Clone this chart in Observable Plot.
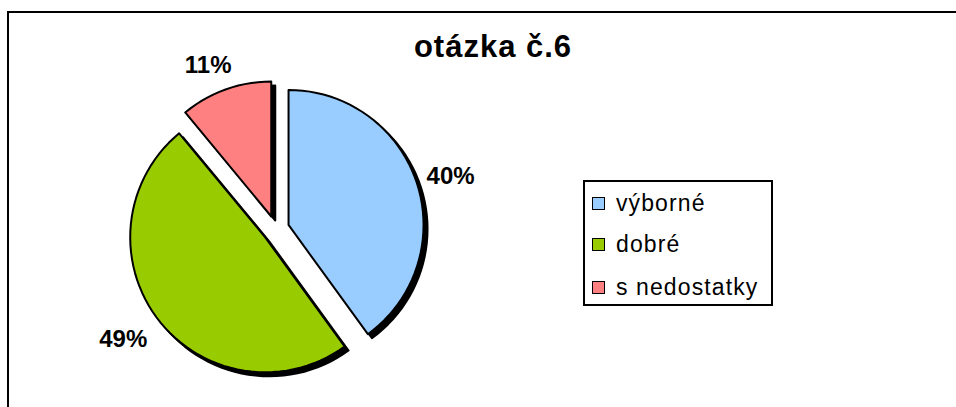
<!DOCTYPE html>
<html>
<head>
<meta charset="utf-8">
<script src="https://cdn.jsdelivr.net/npm/d3@7"></script>
<script src="https://cdn.jsdelivr.net/npm/@observablehq/plot@0.6"></script>
<style>
  html, body { margin: 0; padding: 0; background: #fff; }
  #wrap { position: relative; width: 956px; height: 407px; overflow: hidden; font-family: "Liberation Sans", Arial, sans-serif; }
  #frame { position: absolute; left: 7px; top: 11px; width: 1000px; height: 500px; border: 2px solid #000; box-sizing: border-box; }
  #chart { position: absolute; left: 0; top: 0; }
  #title { position: absolute; left: 293px; width: 400px; top: 29px; text-align: center; font-weight: bold; font-size: 31px; letter-spacing: 1px; line-height: 36px; color: #000; }
  #legend { position: absolute; left: 583px; top: 180px; width: 190px; height: 126px; border: 2px solid #000; box-sizing: border-box; background: #fff; }
  .row { position: absolute; left: 7px; height: 26px; line-height: 26px; font-size: 23px; letter-spacing: 1.1px; white-space: nowrap; display: flex; align-items: center; }
  .sw { width: 13px; height: 13px; border: 1.5px solid #000; box-sizing: border-box; margin-right: 11px; flex: none; }
</style>
</head>
<body>
<div id="wrap">
  <div id="frame"></div>
  <div id="chart"></div>
  <div id="title"></div>
  <div id="legend"></div>
</div>
<script>
// ---- data ----
const titleText = "otázka č.6";
const categories = ["výborné", "dobré", "s nedostatky"];
const values = [40, 49, 11];
const labels = ["40%", "49%", "11%"];
const colors = ["#99CCFF", "#99CC00", "#FF8080"];

// ---- geometry (layout, in units of the pie radius) ----
const W = 956, H = 407;
const R = 135;                 // pixels per radius unit
const cx = 275.3, cy = 228.6;  // pixel location of pie centre
const explode = 13.4 / R;      // explosion offset
const labelRx = 188 / R, labelRy = 176 / R; // label distance
const steps = 120;

const total = d3.sum(values);
const slicePts = [];
const labelData = [];
let cum = 0;
values.forEach((v, i) => {
  const a0 = cum / total * 2 * Math.PI;
  cum += v;
  const a1 = cum / total * 2 * Math.PI;
  const mid = (a0 + a1) / 2;
  const ox = explode * Math.sin(mid), oy = explode * Math.cos(mid);
  slicePts.push({cat: categories[i], x: ox, y: oy});
  const n = Math.max(2, Math.ceil(steps * (a1 - a0) / (2 * Math.PI)));
  for (let k = 0; k <= n; k++) {
    const a = a0 + (a1 - a0) * k / n;
    slicePts.push({cat: categories[i], x: ox + Math.sin(a), y: oy + Math.cos(a)});
  }
  labelData.push({text: labels[i], x: labelRx * Math.sin(mid), y: labelRy * Math.cos(mid)});
});

const plot = Plot.plot({
  width: W,
  height: H,
  margin: 0,
  style: {background: "transparent", overflow: "visible"},
  x: {domain: [-cx / R, (W - cx) / R], axis: null},
  y: {domain: [-(H - cy) / R, cy / R], axis: null},
  color: {domain: categories, range: colors},
  marks: [
    Plot.line(slicePts, {x: "x", y: "y", z: "cat", curve: "linear-closed", fill: "#000", stroke: "#000", strokeWidth: 2, dx: 4, dy: 4}),
    Plot.line(slicePts, {x: "x", y: "y", z: "cat", curve: "linear-closed", fill: "cat", stroke: "#000", strokeWidth: 2}),
    Plot.text(labelData, {x: "x", y: "y", text: "text", dx: -4, dy: 2, fontSize: 24, fontWeight: "bold", fontFamily: "Liberation Sans, Arial, sans-serif", fill: "#000"})
  ]
});
document.getElementById("chart").appendChild(plot);

document.getElementById("title").textContent = titleText;

// legend
const legend = document.getElementById("legend");
const rowTops = [8, 49, 92];
categories.forEach((c, i) => {
  const row = document.createElement("div");
  row.className = "row";
  row.style.top = rowTops[i] + "px";
  const sw = document.createElement("div");
  sw.className = "sw";
  sw.style.background = colors[i];
  row.appendChild(sw);
  row.appendChild(document.createTextNode(c));
  legend.appendChild(row);
});
</script>
</body>
</html>
